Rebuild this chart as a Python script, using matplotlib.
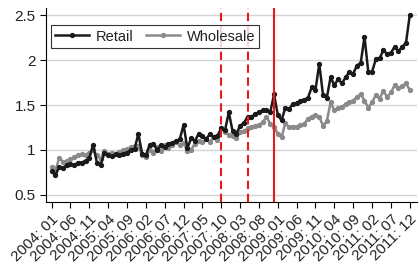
import matplotlib
matplotlib.use("Agg")
import matplotlib.pyplot as plt
import numpy as np

plt.rcParams["font.family"] = ["Liberation Sans", "DejaVu Sans"]

years = list(range(2004, 2012))
months = [f"{y}: {m:02d}" for y in years for m in range(1, 13)]

retail = [0.76, 0.72, 0.81, 0.80, 0.83, 0.84, 0.83, 0.86, 0.86, 0.88,
          0.91, 1.06, 0.86, 0.83, 0.97, 0.94, 0.93, 0.95, 0.94, 0.96,
          0.97, 1.00, 1.01, 1.18, 0.96, 0.94, 1.06, 1.07, 1.00, 1.05,
          1.03, 1.07, 1.08, 1.10, 1.12, 1.28, 1.02, 1.13, 1.10, 1.18,
          1.16, 1.12, 1.18, 1.14, 1.16, 1.24, 1.22, 1.42, 1.21, 1.18,
          1.27, 1.30, 1.37, 1.37, 1.40, 1.42, 1.44, 1.45, 1.42, 1.62,
          1.39, 1.33, 1.47, 1.46, 1.51, 1.52, 1.55, 1.56, 1.58, 1.70,
          1.67, 1.96, 1.61, 1.58, 1.81, 1.72, 1.79, 1.74, 1.81, 1.87,
          1.85, 1.94, 1.97, 2.26, 1.87, 1.87, 2.01, 2.02, 2.11, 2.07,
          2.08, 2.15, 2.10, 2.15, 2.19, 2.50]

wholesale = [0.81, 0.77, 0.91, 0.87, 0.88, 0.90, 0.92, 0.94, 0.95, 0.94,
             0.97, 1.00, 0.94, 0.90, 0.99, 0.96, 0.97, 0.96, 0.98, 1.00,
             1.01, 1.03, 1.04, 1.04, 0.94, 0.92, 1.00, 0.97, 1.03, 0.99,
             1.05, 1.02, 1.06, 1.09, 1.06, 1.08, 0.99, 1.00, 1.07, 1.10,
             1.09, 1.12, 1.09, 1.14, 1.11, 1.24, 1.20, 1.17, 1.16, 1.13,
             1.20, 1.21, 1.24, 1.25, 1.27, 1.28, 1.31, 1.37, 1.29, 1.26,
             1.18, 1.14, 1.30, 1.25, 1.26, 1.26, 1.28, 1.29, 1.35, 1.37,
             1.39, 1.37, 1.27, 1.32, 1.53, 1.44, 1.47, 1.48, 1.51, 1.53,
             1.55, 1.59, 1.62, 1.55, 1.47, 1.53, 1.61, 1.57, 1.66, 1.59,
             1.64, 1.72, 1.69, 1.71, 1.74, 1.67]

events_dashed = ["2007: 10", "2008: 05"]
events_solid = ["2008: 12"]
yticks = [0.5, 1, 1.5, 2, 2.5]

fig = plt.figure(figsize=(4.2, 2.69), dpi=100)
ax = fig.add_axes([0.1095, 0.249, 0.884, 0.721])

x = np.arange(len(months))
ax.plot(x, retail, color="#1a1a1a", lw=1.8, marker="o", ms=2.8, label="Retail", zorder=4)
ax.plot(x, wholesale, color="#8a8a8a", lw=1.8, marker="o", ms=2.8, label="Wholesale", zorder=3)

for m in events_dashed:
    ax.axvline(months.index(m), color="#e8191c", lw=1.5, ls=(0, (4, 2.2)), zorder=5)
for m in events_solid:
    ax.axvline(months.index(m), color="#e8191c", lw=1.5, zorder=5)

ax.set_xlim(-1.5, 97)
ax.set_ylim(0.42, 2.58)
ax.set_yticks(yticks)
ax.set_yticklabels([f"{v:g}" for v in yticks], fontsize=11)
ax.yaxis.grid(True, color="#d4d4d4", lw=1)
ax.set_axisbelow(True)

tick_pos = x[::5]
ax.set_xticks(tick_pos)
ax.set_xticklabels([months[i] for i in tick_pos], rotation=45, ha="right",
                   rotation_mode="anchor", fontsize=11)
ax.tick_params(axis="both", direction="out", length=4, width=0.8, color="black",
               labelcolor="#222222")

for s in ["top", "right"]:
    ax.spines[s].set_visible(False)
for s in ["left", "bottom"]:
    ax.spines[s].set_color("black")
    ax.spines[s].set_linewidth(0.8)

leg = ax.legend(loc="upper left", bbox_to_anchor=(0.0135, 0.912), borderaxespad=0,
                ncol=2, fontsize=10.5, frameon=True, fancybox=False, edgecolor="black",
                handlelength=2.3, columnspacing=0.9, borderpad=0.3, handletextpad=0.45,
                labelcolor="#222222")
leg.get_frame().set_linewidth(0.8)

fig.savefig("out.png", dpi=100)
